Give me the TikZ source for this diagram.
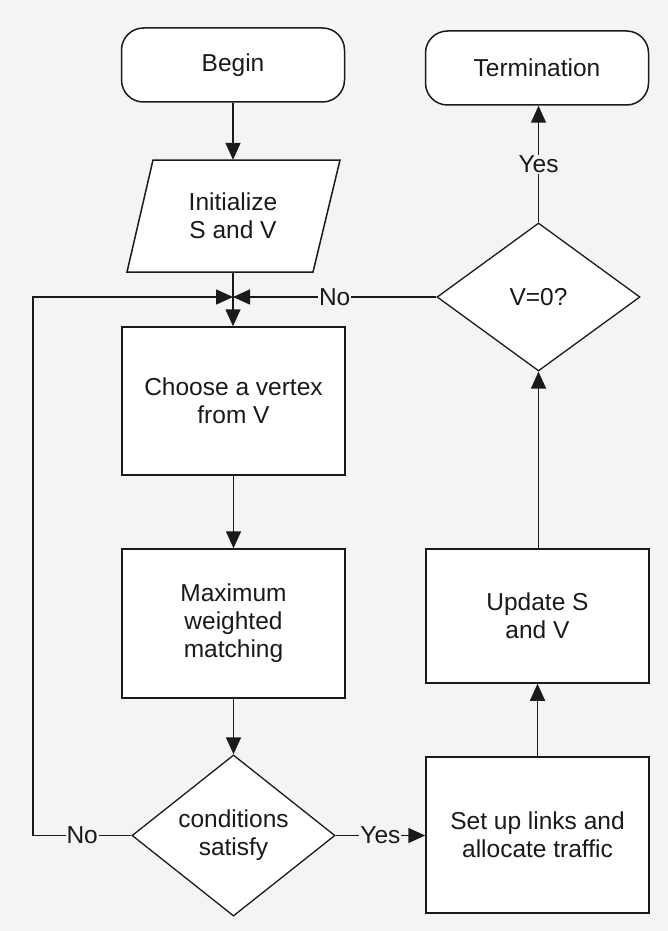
\documentclass[tikz,border=0pt]{standalone}
\usepackage{fontspec}
\setmainfont{Liberation Sans}
\usetikzlibrary{shapes.geometric,arrows.meta}
\definecolor{bg}{HTML}{F4F4F4}
\definecolor{ink}{HTML}{1A1A1A}
\begin{document}
\begin{tikzpicture}[x=1pt,y=-1pt,
  every node/.style={font=\fontsize{24.5}{28}\selectfont, align=center, text=ink},
  box/.style={draw=ink, line width=1.5pt, fill=white, minimum width=223pt, inner sep=0pt},
  term/.style={box, rounded corners=22pt, minimum height=74pt},
  dec/.style={diamond, draw=ink, line width=1.3pt, fill=white, inner sep=0pt, minimum width=203pt},
  lab/.style={fill=bg, inner sep=1pt},
  arr/.style={draw=ink, line width=1.5pt, -{Triangle[length=17pt,width=15pt]}},
  ln/.style={draw=ink, line width=1.5pt}]
\fill[bg] (0,0) rectangle (668,931);
\useasboundingbox (0,0) rectangle (668,931);

\node[term] (begin) at (233,65) {Begin};
\node[term] (term) at (537,68) {Termination};
\draw[ln, fill=white] (127,272) -- (153,160) -- (340,160) -- (313,272) -- cycle;
\node[minimum height=112pt, inner sep=0pt] (init) at (233,216) {Initialize\\S and V};
\node[box, minimum height=148pt] (choose) at (233.5,401) {Choose a vertex\\from V};
\node[box, minimum height=149pt] (max) at (233.5,623.5) {Maximum\\weighted\\matching};
\node[dec, minimum height=139pt] (cond) at (233.5,835.5) {conditions\\satisfy};
\node[box, minimum height=156pt] (setup) at (537.5,835) {Set up links and\\allocate traffic};
\node[box, minimum height=134pt] (update) at (537.5,616) {Update S\\and V};
\node[dec, minimum height=148pt] (vz) at (538.5,297) {V=0?};

\coordinate (merge) at (233,297);
\coordinate (loop) at (33,835.5);

\draw[arr] (begin) -- (init);
\draw[arr] (init.south) -- (init.south |- choose.north);
\draw[arr] (choose) -- (max);
\draw[arr] (max) -- (cond);
\draw[arr] (cond.east) -- node[lab]{Yes} (setup.west |- cond.east);
\draw[arr] (setup) -- (update);
\draw[arr] (update.north -| vz.south) -- (vz.south);
\draw[arr] (vz.north) -- node[lab]{Yes} (vz.north |- term.south);
\draw[arr] (vz.west) -- node[lab]{No} (merge);
\draw[arr] (cond.west) -- node[lab]{No} (loop) |- (merge);
\end{tikzpicture}
\end{document}
